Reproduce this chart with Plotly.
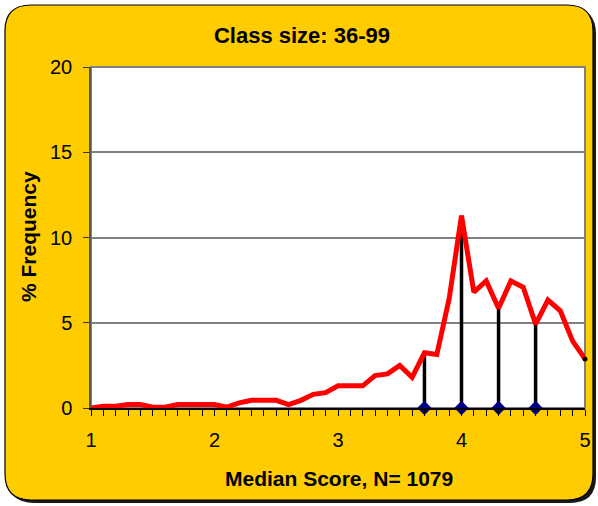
import plotly.graph_objects as go

# Data
scores = [1.0, 1.1, 1.2, 1.3, 1.4, 1.5, 1.6, 1.7, 1.8, 1.9,
          2.0, 2.1, 2.2, 2.3, 2.4, 2.5, 2.6, 2.7, 2.8, 2.9,
          3.0, 3.1, 3.2, 3.3, 3.4, 3.5, 3.6, 3.7, 3.8, 3.9,
          4.0, 4.1, 4.2, 4.3, 4.4, 4.5, 4.6, 4.7, 4.8, 4.9, 5.0]
freq = [0.0, 0.1, 0.1, 0.2, 0.2, 0.05, 0.05, 0.2, 0.2, 0.2,
        0.2, 0.05, 0.3, 0.45, 0.45, 0.45, 0.2, 0.45, 0.8, 0.9,
        1.3, 1.3, 1.3, 1.9, 2.0, 2.5, 1.8, 3.24, 3.14, 6.4,
        11.28, 6.8, 7.45, 5.85, 7.45, 7.08, 4.92, 6.33, 5.7, 3.92, 2.88]
marker_scores = [3.7, 4.0, 4.3, 4.6]
marker_values = [3.24, 11.28, 5.85, 4.92]

title_text = "Class size: 36-99"
x_title = "Median Score, N= 1079"
y_title = "% Frequency"

W, H = 598, 506
L, R, T, B = 91, 13, 67, 98
pw, ph = W - L - R, H - T - B

def px(x):
    return (x - L) / pw

def py(y):
    return (H - B - y) / ph

def rounded_rect(x0, y0, x1, y1, r):
    X0, X1 = px(x0), px(x1)
    Y0, Y1 = py(y0), py(y1)
    rx, ry = r / pw, r / ph
    return (f"M {X0+rx},{Y0} L {X1-rx},{Y0} Q {X1},{Y0} {X1},{Y0-ry} "
            f"L {X1},{Y1+ry} Q {X1},{Y1} {X1-rx},{Y1} "
            f"L {X0+rx},{Y1} Q {X0},{Y1} {X0},{Y1+ry} "
            f"L {X0},{Y0-ry} Q {X0},{Y0} {X0+rx},{Y0} Z")

fig = go.Figure()

for xs, ys in zip(marker_scores, marker_values):
    fig.add_trace(go.Scatter(x=[xs, xs], y=[0, ys], mode="lines",
                             line=dict(color="black", width=3.5),
                             showlegend=False, hoverinfo="skip"))

fig.add_trace(go.Scatter(x=scores, y=freq, mode="lines",
                         line=dict(color="#FF0000", width=5),
                         showlegend=False, cliponaxis=False))
fig.add_trace(go.Scatter(x=[scores[-1]], y=[freq[-1]], mode="markers",
                         marker=dict(color="black", size=5),
                         showlegend=False, cliponaxis=False))
fig.add_trace(go.Scatter(x=marker_scores, y=[0] * len(marker_scores), mode="markers",
                         marker=dict(color="#000080", size=11, symbol="diamond"),
                         showlegend=False, cliponaxis=False))

shapes = [
    dict(type="path", xref="paper", yref="paper", layer="below",
         path=rounded_rect(8, 8, 596, 503, 26), fillcolor="#1a1a1a", line=dict(width=0)),
    dict(type="path", xref="paper", yref="paper", layer="below",
         path=rounded_rect(5, 5, 593, 500, 26), fillcolor="#FFCC00",
         line=dict(color="black", width=1.2)),
    dict(type="rect", xref="paper", yref="paper", layer="below",
         x0=0, x1=1, y0=0, y1=1, fillcolor="white", line=dict(color="#808080", width=2)),
    dict(type="line", xref="paper", yref="y", layer="below",
         x0=0, x1=1, y0=5, y1=5, line=dict(color="black", width=1)),
]

fig.update_layout(
    width=W, height=H, autosize=False,
    margin=dict(l=L, r=R, t=T, b=B, pad=0, autoexpand=False),
    paper_bgcolor="white",
    plot_bgcolor="white",
    showlegend=False,
    font=dict(family="Liberation Sans, Arial, sans-serif", size=20, color="black"),
    shapes=shapes,
    title=dict(text="<b>" + title_text + "</b>", x=302 / W, xanchor="center",
               y=1 - 35 / H, yanchor="middle", font=dict(size=22), automargin=False),
    annotations=[
        dict(text="<b>" + x_title + "</b>", xref="paper", yref="paper",
             x=px(339), y=py(478), xanchor="center", yanchor="middle",
             showarrow=False, font=dict(size=21)),
        dict(text="<b>" + y_title + "</b>", xref="paper", yref="paper",
             x=px(28), y=py(236), xanchor="center", yanchor="middle", textangle=-90,
             showarrow=False, font=dict(size=21)),
    ],
    xaxis=dict(range=[1, 5], tickvals=[1, 2, 3, 4, 5], ticks="outside", ticklen=6,
               tickcolor="black", showgrid=False, zeroline=False, automargin=False,
               showline=True, linecolor="black", linewidth=1.5,
               ticklabelstandoff=7,
               minor=dict(dtick=0.1, ticks="outside", ticklen=6, tickcolor="black",
                          showgrid=False)),
    yaxis=dict(range=[0, 20], tickvals=[0, 5, 10, 15, 20], ticks="outside", ticklen=6,
               tickcolor="#333333", showgrid=True, gridcolor="#808080", gridwidth=1.5,
               zeroline=False, showline=True, linecolor="#555555", linewidth=1.5,
               automargin=False, ticklabelstandoff=7),
)

fig.write_html("out.html", config={"displayModeBar": False, "responsive": False},
               post_script="document.body.style.margin='0';document.body.style.overflow='hidden';")
